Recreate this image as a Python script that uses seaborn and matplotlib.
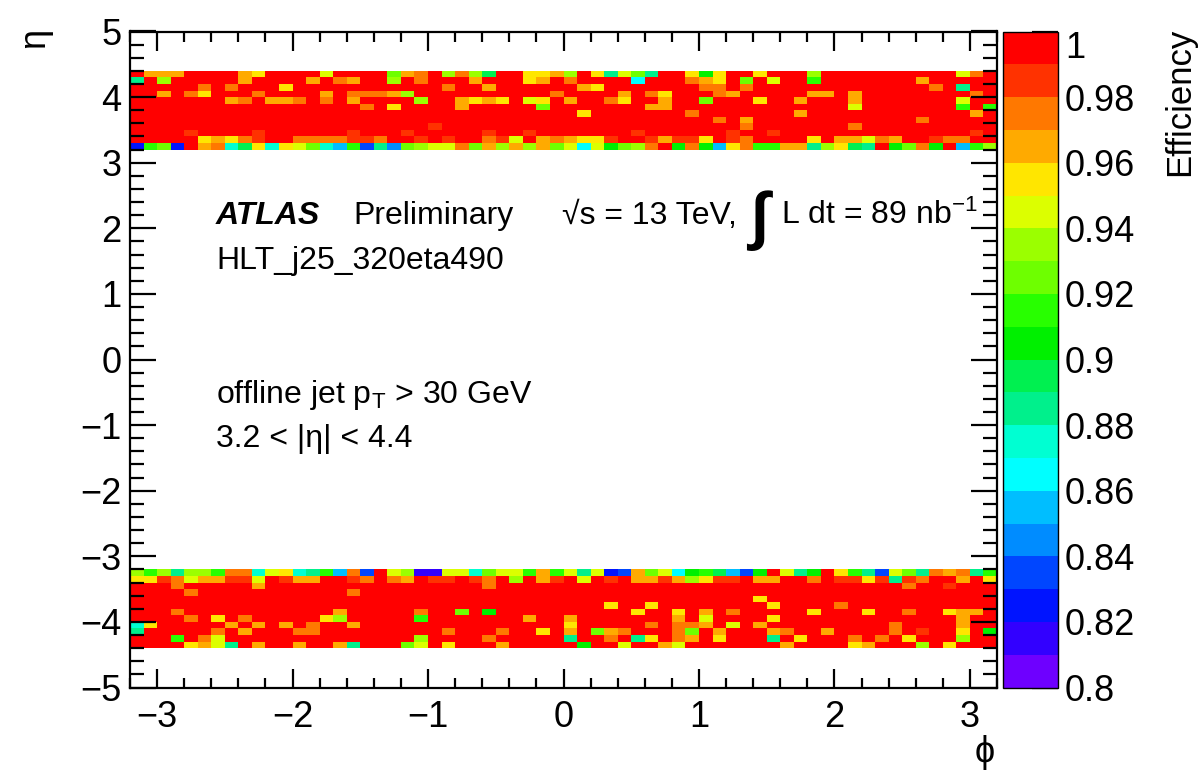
import numpy as np
import pandas as pd
import matplotlib
matplotlib.use("Agg")
import matplotlib.pyplot as plt
from matplotlib.colors import ListedColormap, BoundaryNorm
from matplotlib.ticker import MultipleLocator, FixedLocator, FixedFormatter
from matplotlib.transforms import ScaledTranslation
import seaborn as sns

# ---------------------------------------------------------------------------
# Trigger efficiency per (eta, phi) cell, 64 phi bins x 12 eta bins per side.
# One character per cell; the character is the colour level of the cell:
# '0' = 0.99-1.00, '1' = 0.98-0.99, ... , 'j' = 0.80-0.81
# ---------------------------------------------------------------------------
LEVEL_CODES = "0123456789abcdefghij"

# 3.2 < eta < 4.4, rows listed from eta = 4.4 (top) down to eta = 3.2
ETA_POS_ROWS = [
    "0333000034000050" "0007320626a00443" "604b57b004940040" "0060000000000520",
    "b060000030000302" "3006020003000430" "20000d0002340705" "0080000000300000",
    "0000020200040000" "0000000200300000" "0340000000220200" "0000000000020b00",
    "0030240002000030" "2223600000000002" "0000302400023000" "0033030000000020",
    "0000000320332020" "3000060034340540" "3002400300700040" "0300030000000500",
    "0000000000000000" "0204000030000070" "0000003300000000" "0000050000000808",
    "0000000000000000" "0000000000000000" "0400000002000000" "0300000000000030",
    "0000000000000000" "0000000000000000" "0000000000020300" "0000000000200000",
    "0000000000000000" "0000001000000000" "0000000000000200" "0000020000000000",
    "0000100001000000" "1000100000100100" "0000010000001001" "0000000000000010",
    "0000043421002222" "1120010100215032" "3441001311401200" "0040335230012200",
    "h87h032ca4c457ce" "8gbf765527363637" "5d597620929e4288" "33b64ab097290e86",
]

# -4.4 < eta < -3.2, rows listed from eta = -3.2 (top) down to eta = -4.4
ETA_NEG_ROWS = [
    "686b66822c54cb8e" "2g056ii55c755838" "5b5hg375d98aeg90" "5b9048bg57b232b8",
    "4412533115013300" "1202301101206031" "0501033136411033" "00201141b1200304",
    "0002000003000000" "0000000000200000" "0000000000000000" "0000000002001000",
    "0000200000000000" "2000000000000000" "0000000000000000" "0000000000000000",
    "0000000000000000" "0000000000000000" "0000000000000040" "0000000000000000",
    "0000000000000000" "0000000000000000" "0004004000000004" "0000200000000000",
    "0002000000000003" "0000020070900000" "0000040040302000" "0040004002004330",
    "0000204020000046" "0000080000000300" "3000000030500004" "0000000000000300",
    "c400000303030200" "3000000000000000" "4000002022305030" "0000000020000300",
    "b000002030002200" "0000000200020040" "3073200027030003" "2003000020100409",
    "0008025000000000" "0000060000200000" "b0020b402304000b" "0400020204000600",
    "0000435b03003003" "b000750400030000" "0900500350000000" "3000043000604000",
]

# colour levels of the palette, from 0.80 (bottom) to 1.00 (top)
PALETTE = [
    "#6e00ff", "#3200ff", "#0014ff", "#0046ff", "#008cff",
    "#00beff", "#00ffff", "#00ffd2", "#00f08c", "#00f050",
    "#00f000", "#28ff00", "#6eff00", "#9bff00", "#dcff00",
    "#ffe600", "#ffaa00", "#ff7800", "#ff3200", "#ff0000",
]
EFF_TICKS = [0.80, 0.82, 0.84, 0.86, 0.88, 0.90, 0.92, 0.94, 0.96, 0.98, 1.00]

# binning
PHI_LO, PHI_HI, N_PHI = -3.2, 3.2, 64
ETA_LO, ETA_HI, N_ETA = -5.0, 5.0, 100
BAND_TOP_POS = 4.4    # upper edge of the positive-eta band
BAND_TOP_NEG = -3.2   # upper edge of the negative-eta band


def decode(rows):
    lut = {c: i for i, c in enumerate(LEVEL_CODES)}
    return np.array([[0.995 - 0.01 * lut[c] for c in r] for r in rows])


eta_step = (ETA_HI - ETA_LO) / N_ETA
phi_step = (PHI_HI - PHI_LO) / N_PHI
eta_centres = np.round(ETA_HI - eta_step * (np.arange(N_ETA) + 0.5), 3)
phi_centres = np.round(PHI_LO + phi_step * (np.arange(N_PHI) + 0.5), 3)

grid = np.full((N_ETA, N_PHI), np.nan)
for rows, top in ((ETA_POS_ROWS, BAND_TOP_POS), (ETA_NEG_ROWS, BAND_TOP_NEG)):
    vals = decode(rows)
    i0 = int(round((ETA_HI - top) / eta_step))
    grid[i0:i0 + len(vals)] = vals

eff = pd.DataFrame(grid, index=eta_centres, columns=phi_centres)

# ---------------------------------------------------------------------------
sns.set_theme(style="white")
plt.rcParams["font.family"] = ["Liberation Sans", "DejaVu Sans"]
plt.rcParams["mathtext.fontset"] = "custom"
plt.rcParams["mathtext.rm"] = "Liberation Sans"
plt.rcParams["mathtext.it"] = "Liberation Sans:italic"
plt.rcParams["mathtext.bf"] = "Liberation Sans:bold"
plt.rcParams["axes.unicode_minus"] = True
plt.rcParams["text.color"] = "black"

W, H = 1200, 773
fig = plt.figure(figsize=(W / 100, H / 100), dpi=100)
fig.patch.set_facecolor("white")

pos = [130 / W, 1 - 687.5 / H, 867 / W, 656 / H]
ax = fig.add_axes(pos)
cax = fig.add_axes([1003 / W, pos[1], 55 / W, pos[3]])

cmap = ListedColormap(PALETTE)
norm = BoundaryNorm(np.linspace(0.8, 1.0, len(PALETTE) + 1), cmap.N)

sns.heatmap(eff, ax=ax, cmap=cmap, norm=norm, cbar_ax=cax,
            mask=eff.isna(), xticklabels=False, yticklabels=False,
            cbar_kws={"ticks": EFF_TICKS})
ax.set_xlabel("")
ax.set_ylabel("")
for s in ax.spines.values():
    s.set_visible(False)

# frame carrying the physical eta / phi scales
frame = fig.add_axes(pos, facecolor="none")
frame.set_xlim(PHI_LO, PHI_HI)
frame.set_ylim(ETA_LO, ETA_HI)
frame.xaxis.set_major_locator(MultipleLocator(1))
frame.xaxis.set_minor_locator(MultipleLocator(0.2))
frame.yaxis.set_major_locator(MultipleLocator(1))
frame.yaxis.set_minor_locator(MultipleLocator(0.2))
for s in frame.spines.values():
    s.set_visible(True)
    s.set_linewidth(1.6)
    s.set_color("black")
frame.tick_params(which="both", direction="in", top=True, right=True,
                  bottom=True, left=True, width=1.6, color="black",
                  labelsize=26, labelcolor="black")
frame.tick_params(axis="y", which="major", length=19, pad=6)
frame.tick_params(axis="y", which="minor", length=10)
frame.tick_params(axis="x", which="major", length=14, pad=9)
frame.tick_params(axis="x", which="minor", length=7)

# colour scale
cb = ax.collections[0].colorbar
cb.outline.set_visible(True)
cb.outline.set_linewidth(1.0)
cb.outline.set_edgecolor("black")
cax.yaxis.set_major_locator(FixedLocator(EFF_TICKS))
cax.yaxis.set_major_formatter(FixedFormatter([f"{t:g}" for t in EFF_TICKS]))
cax.tick_params(axis="y", which="major", direction="in", right=True, left=False,
                length=19, width=1.6, color="black", labelsize=26, pad=5,
                labelcolor="black")
cax.minorticks_off()

# the label of the top end of the scale sits just below the end of the bar
fig.canvas.draw()
top_label = cax.yaxis.get_major_ticks()[-1].label2
top_label.set_transform(top_label.get_transform()
                        + ScaledTranslation(0, -9 / 72, fig.dpi_scale_trans))

# axis titles
fig.text(35 / W, 1 - 38 / H, "η", rotation=90, ha="center", va="center",
         size=26)
fig.text(985 / W, 1 - 752 / H, "ϕ", ha="center", va="center", size=26)
fig.text(1180 / W, 1 - 28 / H, "Efficiency", rotation=90, ha="center",
         va="top", size=25)


def label(xpx, ypx, text, **kw):
    fig.text(xpx / W, 1 - ypx / H, text, va="baseline", ha="left", **kw)


label(216, 224, "ATLAS", size=23, weight="bold", style="italic")
label(353, 224, "Preliminary", size=23)
label(562, 224, "√s = 13 TeV,", size=23)
label(750, 237, "∫", size=46, weight="bold")
label(781, 224, r"L dt = 89 nb$^{\mathregular{-1}}$", size=23)
label(216, 269, "HLT_j25_320eta490", size=23)
label(216, 403, r"offline jet p$_{\mathregular{T}}$ > 30 GeV", size=23)
label(216, 447, "3.2 < |η| < 4.4", size=23)

fig.savefig("out.png", dpi=100)
